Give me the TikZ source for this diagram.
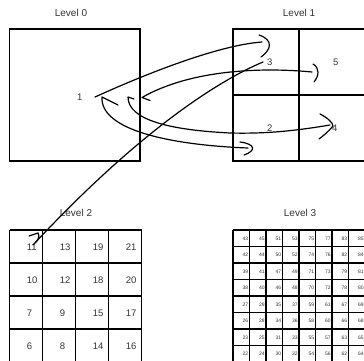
\documentclass[tikz,border=0pt]{standalone}
\usepackage{fontspec}
\setmainfont{Liberation Sans}
\begin{document}
\begin{tikzpicture}[x=1pt,y=-1pt,
  gridline/.style={draw=black, line width=1.1pt},
  gridfine/.style={draw=black, line width=1.4pt},
  stroke/.style={draw=black, line width=1.2pt, line cap=round, line join=round},
  lbl/.style={font=\fontsize{10}{12}\selectfont, text=black!80, inner sep=0pt},
  num/.style={font=\fontsize{9.5}{11}\selectfont, text=black!80, inner sep=0pt, anchor=west},
  tinynum/.style={font=\fontsize{5}{6}\selectfont, text=black!80, inner sep=0pt, anchor=west}]
\useasboundingbox (0,0) rectangle (364,360);
\clip (0,0) rectangle (364,360);

% titles
\node[lbl] (t0) at (71,13) {Level 0};
\node[lbl] (t1) at (299,13) {Level 1};
\node[lbl] (t2) at (76,213) {Level 2};
\node[lbl] (t3) at (300,213) {Level 3};

% level 0
\draw[gridline] (9.5,29) rectangle (140,161);
\node[num] (n1) at (77,97) {1};

% level 1
\draw[gridline] (233,29) rectangle (365,161);
\draw[gridline] (299,29) -- (299,161);
\draw[gridline] (233,95) -- (365,95);
\node[num] (n3) at (267,62) {3};
\node[num] (n5) at (333,62) {5};
\node[num] (n2) at (267,128) {2};
\node[num] (n4) at (332,128) {4};

% level 2
\foreach \i in {0,...,4} {
  \draw[gridline] ({9.5+\i*33},230) -- ({9.5+\i*33},362);
  \draw[gridline] (9.5,{230+\i*33}) -- (141.5,{230+\i*33});
}
\foreach \row [count=\r] in {{11,13,19,21},{10,12,18,20},{7,9,15,17},{6,8,14,16}} {
  \foreach \v [count=\c] in \row {
    \node[num] (m\r-\c) at ({9.5+(\c-1)*33+17.2},{230+(\r-1)*33+16.8}) {\v};
  }
}

% level 3
\foreach \i in {0,...,8} {
  \draw[gridfine] ({233+\i*16.5},230) -- ({233+\i*16.5},362);
  \draw[gridfine] (233,{230+\i*16.5}) -- (365,{230+\i*16.5});
}
\foreach \row [count=\r] in {{43,45,51,53,75,77,83,85},{42,44,50,52,74,76,82,84},{39,41,47,49,71,73,79,81},{38,40,46,48,70,72,78,80},{27,29,35,37,59,61,67,69},{26,28,34,36,58,60,66,68},{23,25,31,33,55,57,63,65},{22,24,30,32,54,56,62,64}} {
  \foreach \v [count=\c] in \row {
    \node[tinynum] (s\r-\c) at ({233+(\c-1)*16.5+9.4},{230+(\r-1)*16.5+8.4}) {\v};
  }
}

% freehand strokes
\coordinate (a0) at (95,97);
\coordinate (a1) at (262,42);
\draw[stroke] (a0) .. controls (150,72) and (220,45) .. (a1);
\draw[stroke] (259,35) .. controls (274,40) and (271,50) .. (261,57);

\coordinate (b0) at (263,62);
\coordinate (b1) at (33,245);
\draw[stroke] (b0) .. controls (220,80) and (140,130) .. (b1);
\draw[stroke] (29,236) -- (38,233) .. controls (40,237) and (38,240) .. (35,243);

\coordinate (c0) at (312,72);
\coordinate (c1) at (142,97.5);
\draw[stroke] (c0) .. controls (260,67) and (190,70) .. (c1) -- (150,100.5);
\draw[stroke] (313,64) .. controls (320,68) and (319,76) .. (314,82);

\coordinate (d0) at (128,97);
\coordinate (d1) at (330,125);
\draw[stroke] (134,99) -- (d0) .. controls (128,120) and (170,130) .. (230,133) .. controls (270,134) and (300,130) .. (d1);
\draw[stroke] (320,114) .. controls (328,118) and (333,123) .. (333,126) .. controls (328,132) and (323,136) .. (319,139);

\coordinate (e0) at (102,97);
\coordinate (e1) at (248,148);
\draw[stroke] (118,105) -- (e0) .. controls (100,130) and (170,145) .. (e1);
\draw[stroke] (240,142) .. controls (256,144) and (256,151) .. (244,155);
\end{tikzpicture}
\end{document}
